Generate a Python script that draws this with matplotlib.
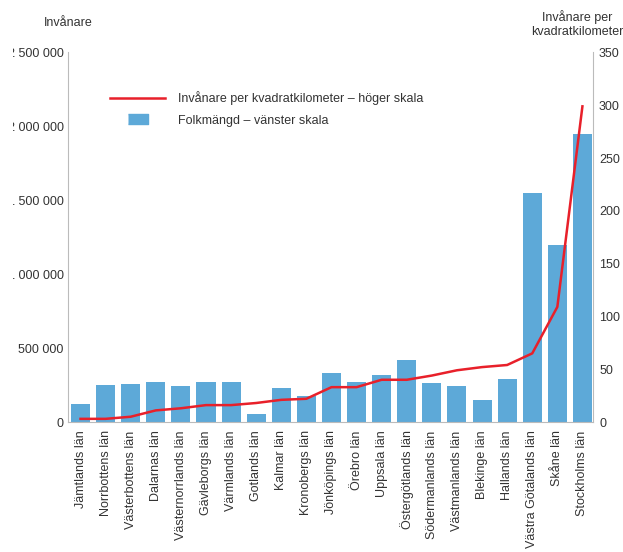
import numpy as np
import matplotlib
matplotlib.use('Agg')
import matplotlib.pyplot as plt
from matplotlib.ticker import FuncFormatter
from matplotlib.lines import Line2D
from matplotlib.transforms import Bbox

plt.rcParams['font.family'] = ['Liberation Sans', 'DejaVu Sans']

lan = ['Jämtlands län', 'Norrbottens län', 'Västerbottens län', 'Dalarnas län',
       'Västernorrlands län', 'Gävleborgs län', 'Värmlands län', 'Gotlands län',
       'Kalmar län', 'Kronobergs län', 'Jönköpings län', 'Örebro län',
       'Uppsala län', 'Östergötlands län', 'Södermanlands län', 'Västmanlands län',
       'Blekinge län', 'Hallands län', 'Västra Götalands län', 'Skåne län',
       'Stockholms län']
folkmangd = [125000, 252000, 259000, 272000, 245000, 272000, 272000, 56000,
             232000, 178000, 333000, 272000, 320000, 421000, 266000, 245000,
             151000, 293000, 1550000, 1197000, 1948000]
tathet = [3, 3, 5, 11, 13, 16, 16, 18, 21, 22, 33, 33, 40, 40, 44, 49,
          52, 54, 65, 109, 299]

bar_col = '#5DA9D8'
line_col = '#E8202A'
txt_col = '#333333'
spine_col = '#BBBBBB'

fig = plt.figure(figsize=(6.23, 5.52), dpi=100)
ax = fig.add_axes([0.1091, 0.2355, 0.9526 - 0.1091, 0.9049 - 0.2355])
ax2 = ax.twinx()

x = np.arange(len(lan))
ax.bar(x, folkmangd, width=0.76, color=bar_col, zorder=2)
ax2.plot(x, tathet, color=line_col, lw=1.8, zorder=3)

ax.set_xlim(-0.5, len(lan) - 0.56)
ax.set_ylim(0, 2500000)
ax2.set_ylim(0, 350)
ax.set_yticks(np.arange(0, 2500001, 500000))
ax2.set_yticks(np.arange(0, 351, 50))
ax.yaxis.set_major_formatter(FuncFormatter(lambda v, p: '0' if v == 0 else f'{int(v):,}'.replace(',', ' ')))

ax.set_xticks(x)
ax.set_xticklabels(lan, rotation=90, fontsize=9, color=txt_col)
for a in (ax, ax2):
    a.tick_params(length=0, labelsize=9, labelcolor=txt_col)
    for s in a.spines.values():
        s.set_visible(False)
ax.tick_params(axis='y', pad=3)
ax.tick_params(axis='x', pad=6)
ax2.tick_params(axis='y', pad=4)
ax2.spines['right'].set_visible(True)
ax2.spines['right'].set_color(spine_col)
ax.spines['left'].set_visible(True)
ax.spines['left'].set_color(spine_col)
ax.spines['bottom'].set_visible(True)
ax.spines['bottom'].set_color(spine_col)

# left labels are cut off at the left edge in the original
clip = Bbox.from_extents(12.5, 0, 623, 552)
for t in ax.get_yticklabels():
    t.set_clip_box(clip)
    t.set_clip_on(True)

handles = [Line2D([], [], color=line_col, lw=1.8),
           Line2D([], [], linestyle='none', color=bar_col, markersize=13.7,
                  marker=[(-1, -0.5), (1, -0.5), (1, 0.5), (-1, 0.5)])]
labels = ['Invånare per kvadratkilometer – höger skala', 'Folkmängd – vänster skala']
ax2.legend(handles, labels, loc='upper left', bbox_to_anchor=(0.08, 0.895),
           frameon=False, fontsize=9, handlelength=4.4, handletextpad=1.0,
           borderpad=0, borderaxespad=0, labelspacing=0.75, labelcolor=txt_col)

fig.text(44 / 623, 1 - 23 / 552, 'Invånare', fontsize=9, color=txt_col, va='center')
fig.text(577 / 623, 1 - 24 / 552, 'Invånare per\nkvadratkilometer', fontsize=9,
         color=txt_col, ha='center', va='center', linespacing=1.15)

fig.savefig('out.png', dpi=100)
